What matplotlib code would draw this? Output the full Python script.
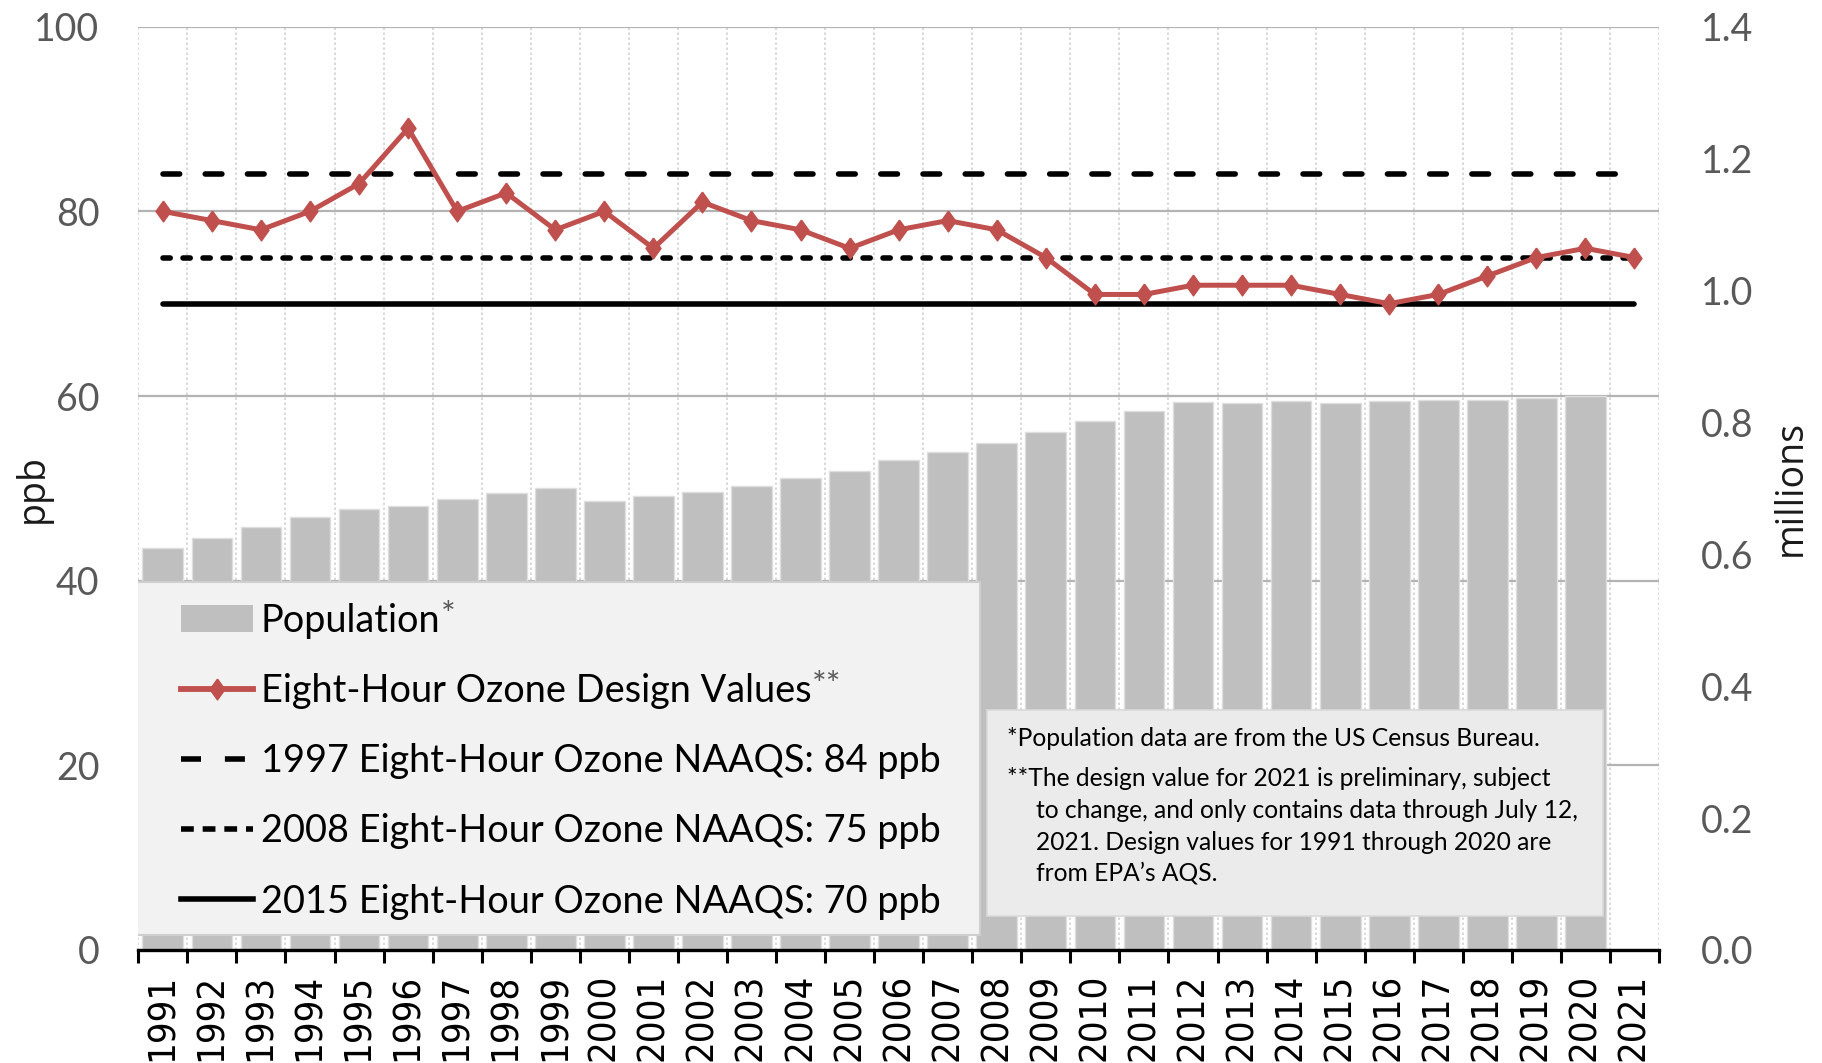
import numpy as np
import matplotlib
matplotlib.use("Agg")
import matplotlib.pyplot as plt
from matplotlib.patches import Patch, Rectangle
from matplotlib.lines import Line2D

# data
years = [str(y) for y in range(1991, 2022)]
ozone_ppb = [80, 79, 78, 80, 83, 89, 80, 82, 78, 80, 76, 81, 79, 78, 76, 78,
             79, 78, 75, 71, 71, 72, 72, 72, 71, 70, 71, 73, 75, 76, 75]
population_m = [0.610, 0.624, 0.641, 0.656, 0.668, 0.673, 0.684, 0.693, 0.700,
                0.681, 0.688, 0.695, 0.704, 0.716, 0.727, 0.743, 0.755, 0.769,
                0.785, 0.802, 0.818, 0.831, 0.829, 0.832, 0.830, 0.832, 0.834,
                0.834, 0.837, 0.840, np.nan]
naaqs_1997 = 84
naaqs_2008 = 75
naaqs_2015 = 70
ppb_ticks = [0, 20, 40, 60, 80, 100]
mil_ticks = [0.0, 0.2, 0.4, 0.6, 0.8, 1.0, 1.2, 1.4]

legend_labels = ["Population", "Eight-Hour Ozone Design Values",
                 "1997 Eight-Hour Ozone NAAQS: 84 ppb",
                 "2008 Eight-Hour Ozone NAAQS: 75 ppb",
                 "2015 Eight-Hour Ozone NAAQS: 70 ppb"]
note_lines = ["*Population data are from the US Census Bureau.",
              "**The design value for 2021 is preliminary, subject",
              "to change, and only contains data through July 12,",
              "2021. Design values for 1991 through 2020 are",
              "from EPA\u2019s AQS."]

RED = "#C0504D"
GRAY_BAR = "#BFBFBF"
TICK_GRAY = "#595959"
FONT = "Lato"

W, H = 1822, 1063
fig = plt.figure(figsize=(W / 100, H / 100), dpi=100)
L, R, T, B = 138.3, 1659.0, 26.7, 950.0
rect = [L / W, (H - B) / H, (R - L) / W, (B - T) / H]

x = np.arange(len(years))

# base axes: grid + left ppb labels + x ticks
ax = fig.add_axes(rect)
ax.set_xlim(-0.5, len(years) - 0.5)
ax.set_ylim(0, 100)
ax.set_yticks(ppb_ticks)
ax.set_yticklabels([str(v) for v in ppb_ticks], fontfamily=FONT, fontsize=27, color=TICK_GRAY)
ax.tick_params(axis="y", length=0, pad=28)
ax.set_xticks(np.arange(-0.5, len(years), 1.0))
ax.set_xticklabels([])
ax.set_xticks(x, minor=True)
ax.set_xticklabels(years, minor=True, rotation=90, fontfamily="DejaVu Sans",
                   fontstretch="condensed", fontsize=27.5, va="top")
ax.tick_params(axis="x", which="major", length=9, width=2.2, color="black", direction="out")
ax.tick_params(axis="x", which="minor", length=0, pad=17)
ax.grid(axis="y", color="#b3b3b3", linewidth=1.6)
ax.grid(axis="x", which="major", color="#d3d3d3", linewidth=1.2, linestyle=(0, (1.5, 1.5)))
for s in ax.spines.values():
    s.set_visible(False)
ax.set_ylabel("ppb", fontfamily="Open Sans", fontsize=27, color="#1a1a1a")
ax.yaxis.set_label_coords((52 - L) / (R - L), 0.5)

# bars on the millions axis
axb = ax.twinx()
axb.set_ylim(0, 1.4)
axb.bar(x, population_m, width=0.83, color=GRAY_BAR, edgecolor="#dedede", linewidth=1.0)
axb.set_yticks(mil_ticks)
axb.set_yticklabels(["%.1f" % v for v in mil_ticks], fontfamily=FONT, fontsize=27, color=TICK_GRAY)
axb.tick_params(axis="y", length=0, pad=30)
axb.set_ylabel("millions", fontfamily="Open Sans", fontsize=27, color="#1a1a1a")
axb.yaxis.set_label_coords((1772 - L) / (R - L), 0.5)
for s in axb.spines.values():
    s.set_visible(False)

# line axes on top
axl = ax.twinx()
axl.set_ylim(0, 100)
axl.set_yticks([])
for k, s in axl.spines.items():
    s.set_visible(k == "bottom")
axl.spines["bottom"].set_linewidth(2.4)
axl.spines["bottom"].set_color("black")

diamond = [(0, 1), (0.72, 0), (0, -1), (-0.72, 0), (0, 1)]
axl.plot(x, [naaqs_1997] * len(x), color="black", linewidth=4.0,
         dashes=(3.0, 4.6), dash_capstyle="round")
axl.plot(x, [naaqs_2008] * len(x), color="black", linewidth=4.0,
         dashes=(1.3, 2.3), dash_capstyle="round")
axl.plot(x, [naaqs_2015] * len(x), color="black", linewidth=4.0, solid_capstyle="round")
axl.plot(x, ozone_ppb, color=RED, linewidth=3.6, marker=diamond, markersize=15,
         markerfacecolor=RED, markeredgecolor=RED)

# legend box
to_ax = lambda px, py: ((px - L) / (R - L), (B - py) / (B - T))
lx0, ly0 = to_ax(137, 935)
lx1, ly1 = to_ax(980, 581.7)
axl.add_patch(Rectangle((lx0, ly0), lx1 - lx0, ly1 - ly0, transform=axl.transAxes,
                        facecolor="#f2f2f2", edgecolor="#cfcfcf", linewidth=1.5, zorder=10))
handles = [Patch(facecolor=GRAY_BAR, edgecolor="none"),
           Line2D([], [], color=RED, linewidth=4.2, marker=diamond, markersize=15,
                  markerfacecolor=RED, markeredgecolor=RED),
           Line2D([], [], color="black", linewidth=4.0, dashes=(3.6, 4.3)),
           Line2D([], [], color="black", linewidth=4.0, dashes=(2.3, 1.6)),
           Line2D([], [], color="black", linewidth=4.0)]
hx, hy = to_ax(181, 603)
leg = axl.legend(handles, legend_labels, loc="upper left", bbox_to_anchor=(hx, hy),
                 bbox_transform=axl.transAxes, frameon=False, borderpad=0, borderaxespad=0,
                 handlelength=1.9, handletextpad=0.2, labelspacing=0.90,
                 prop={"family": FONT, "size": 27.3})
leg.set_zorder(11)

# note box
nx0, ny0 = to_ax(987, 916)
nx1, ny1 = to_ax(1603, 710)
axl.add_patch(Rectangle((nx0, ny0), nx1 - nx0, ny1 - ny0, transform=axl.transAxes,
                        facecolor="#ebebeb", edgecolor="#d9d9d9", linewidth=1.2, zorder=10))
note_pos = [(1007, 738), (1007, 778), (1036, 811), (1036, 843), (1036, 873)]
for txt, (px, py) in zip(note_lines, note_pos):
    tx, ty = to_ax(px, py)
    axl.text(tx, ty, txt, transform=axl.transAxes, ha="left", va="center",
             fontfamily=FONT, fontsize=17.7, color="black", zorder=12)

# superscript asterisks after the first two legend labels
fig.canvas.draw()
rend = fig.canvas.get_renderer()
for t, sup in zip(leg.get_texts()[:2], ["*", "**"]):
    bb = t.get_window_extent(rend)
    fig.text((bb.x1 + 1) / W, (bb.y1 + 3) / H, sup, ha="left", va="top",
             fontfamily=FONT, fontsize=25, color=TICK_GRAY, zorder=13)

fig.savefig("out.png", dpi=100)
